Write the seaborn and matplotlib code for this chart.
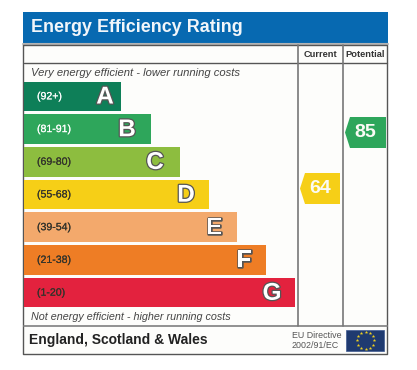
import numpy as np
import pandas as pd
import seaborn as sns
import matplotlib.pyplot as plt
import matplotlib.patheffects as pe
from matplotlib.patches import Polygon, Rectangle

# values
bands = ['A', 'B', 'C', 'D', 'E', 'F', 'G']
ranges = ['(92+)', '(81-91)', '(69-80)', '(55-68)', '(39-54)', '(21-38)', '(1-20)']
lengths = [97, 127, 156, 185, 213, 242, 271]
colors = ['#0e7f58', '#2ea65b', '#8dbd3f', '#f6cf17', '#f3a96c', '#ee7d25', '#e3223e']
range_colors = ['white', 'white', '#33332b', '#33332b', '#33332b', '#33332b', '#33332b']
letter_offsets = [16, 24, 25, 23, 23, 22, 23]
current = 64
potential = 85

W, H = 417, 370
sns.set_theme(style='white')
plt.rcParams['font.family'] = ['Liberation Sans', 'DejaVu Sans']

fig = plt.figure(figsize=(W / 100, H / 100), dpi=100, facecolor='white')

# page axes in pixels, y going down
page = fig.add_axes([0, 0, 1, 1])
page.set_xlim(0, W)
page.set_ylim(H, 0)
page.axis('off')

page.add_patch(Rectangle((24, 45), 364, 309, fc='#fdfdfb', ec='none'))
page.add_patch(Rectangle((23, 12), 365, 31, fc='#0769b1', ec='none'))
page.plot([23, 388], [44, 44], color='#b4b4b4', lw=1.5)
page.plot([23.5, 23.5, 387.5, 387.5, 23.5], [45, 354, 354, 45, 45], color='#555555', lw=1)
page.plot([24, 387], [63, 63], color='#555555', lw=1)
page.plot([24, 387], [326, 326], color='#888888', lw=1.3)
for x in [298.5, 343.5]:
    page.plot([x, x], [45, 326], color='#777777', lw=1.2)

page.text(31, 27.5, 'Energy Efficiency Rating', color='#f2f6fa', fontsize=12.9,
          fontweight='bold', va='center', ha='left')
page.text(320.5, 54.5, 'Current', color='#333333', fontsize=6.7, fontweight='bold',
          va='center', ha='center')
page.text(365.5, 54.5, 'Potential', color='#333333', fontsize=6.7, fontweight='bold',
          va='center', ha='center')
page.text(31, 73, 'Very energy efficient - lower running costs', color='#444444',
          fontsize=8.1, style='italic', va='center')
page.text(31, 317, 'Not energy efficient - higher running costs', color='#444444',
          fontsize=7.75, style='italic', va='center')
page.text(29, 340, 'England, Scotland & Wales', color='#222222', fontsize=10,
          fontweight='bold', va='center')
page.text(292, 335, 'EU Directive', color='#555555', fontsize=6.4, va='center')
page.text(292, 346, '2002/91/EC', color='#555555', fontsize=6.4, va='center')

# EU flag
page.add_patch(Rectangle((346.5, 330), 38, 21, fc='#1f3a70', ec='#3f5a90', lw=0.5))
angles = np.deg2rad(np.arange(0, 360, 30))
page.scatter(365.7 + 8.7 * np.cos(angles), 340.3 + 8.7 * np.sin(angles), marker='*',
             s=7, color='#f0d020', linewidths=0)

# rating arrows
for value, left, top, fill in [(potential, 345, 117, colors[1]), (current, 300, 173, colors[3])]:
    right = left + (41 if value == potential else 40)
    page.add_patch(Polygon([(left, top + 15.5), (left + 5, top), (right, top),
                            (right, top + 31), (left + 5, top + 31)], fc=fill, ec='none'))
    page.text((left + right) / 2, top + 15.5, str(value), color='#fbfbf5', fontsize=14,
              fontweight='bold', va='center', ha='center')

# bars
df = pd.DataFrame({'band': bands, 'length': lengths})
ax = fig.add_axes([24 / W, 1 - 309 / H, 271 / W, 229 / H])
ax.patch.set_alpha(0)
sns.barplot(data=df, y='band', x='length', hue='band', palette=colors, legend=False,
            width=0.9, saturation=1, linewidth=0, ax=ax)
ax.set_xlim(0, 271)
ax.set_ylim(6.5, -0.5)
ax.axis('off')

for i, (band, rng, length) in enumerate(zip(bands, ranges, lengths)):
    ax.text(13, i, rng, color=range_colors[i], fontsize=7.6, va='center', ha='left',
            path_effects=[pe.withStroke(linewidth=0.1, foreground=range_colors[i])])
    ax.text(length - letter_offsets[i], i + 0.02, band, color='white', fontsize=17.5,
            fontweight='bold', va='center', ha='center',
            path_effects=[pe.withStroke(linewidth=1.8, foreground='#555555')])

fig.savefig('out.png', dpi=100, facecolor='white')
